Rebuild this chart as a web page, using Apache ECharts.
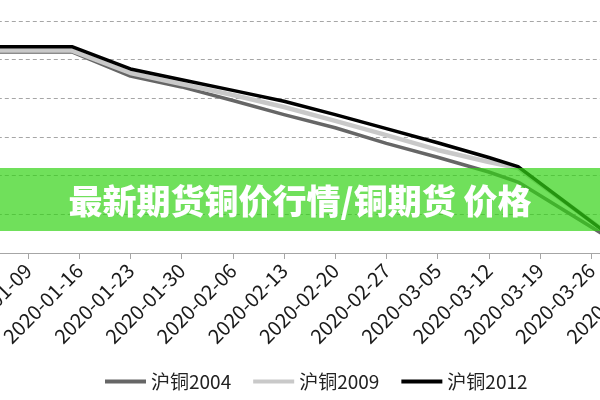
<!DOCTYPE html>
<html>
<head>
<meta charset="utf-8">
<script src="https://cdn.jsdelivr.net/npm/echarts@6/dist/echarts.min.js"></script>
<style>
  html, body { margin: 0; padding: 0; background: #fff; }
  #chart { width: 600px; height: 400px; }
</style>
</head>
<body>
<div id="chart"></div>
<script>
// 日期刻度（从 2020-01-02 起每周一个）
const dateLabels = ['2020-01-02', '2020-01-09', '2020-01-16', '2020-01-23', '2020-01-30', '2020-02-06',
  '2020-02-13', '2020-02-20', '2020-02-27', '2020-03-05', '2020-03-12', '2020-03-19', '2020-03-26', '2020-04-02'];
// 距 2020-01-02 的天数
const days = [0, 13, 21, 28, 35, 42, 49, 56, 63, 70, 74, 86];
const cu2004 = [46400, 46400, 45150, 44590, 43890, 43160, 42480, 41670, 40950, 40190, 39670, 36880];
const cu2009 = [46470, 46470, 45310, 44740, 44170, 43550, 42830, 42100, 41330, 40710, 40400, 37090];
const cu2012 = [46670, 46670, 45520, 44960, 44410, 43850, 43160, 42430, 41700, 40940, 40470, 37060];
const seriesNames = ['沪铜2004', '沪铜2009', '沪铜2012'];
const seriesColors = ['#666666', '#c9c9c9', '#000000'];
const bannerTitle = '最新期货铜价行情/铜期货 价格';

const FONT = '"Noto Sans CJK SC", "Microsoft YaHei", sans-serif';

function toPoints(vals) {
  return days.map((d, i) => [d, vals[i]]);
}

const myChart = echarts.init(document.getElementById('chart'));
const option = {
  animation: false,
  color: seriesColors,
  grid: {
    left: -23.2, right: -42.4, top: 21, bottom: 147,
    containLabel: false, outerBoundsMode: 'none',
  },
  legend: {
    data: seriesNames,
    left: 100,
    top: 367,
    icon: 'rect',
    itemWidth: 41,
    itemHeight: 4,
    itemGap: 22,
    textStyle: { fontSize: 19, color: '#222', fontFamily: FONT },
  },
  xAxis: {
    type: 'value',
    min: 0,
    max: 91,
    interval: 7,
    splitLine: { show: false },
    axisLine: { show: true, lineStyle: { color: '#a6a6a6', width: 1 } },
    axisTick: { show: true, length: 6, lineStyle: { color: '#a6a6a6' } },
    axisLabel: {
      rotate: 45,
      margin: 14,
      fontSize: 20,
      color: '#1a1a1a',
      fontFamily: FONT,
      hideOverlap: false,
      formatter: (v) => dateLabels[Math.round(v / 7)] || '',
    },
  },
  yAxis: {
    type: 'value',
    min: 36000,
    max: 48000,
    interval: 2000,
    axisLine: { show: false },
    axisTick: { show: false },
    axisLabel: { show: false },
    splitLine: { showMaxLine: true, lineStyle: { color: '#a6a6a6', type: [4, 3], width: 1 } },
  },
  series: [
    { name: seriesNames[0], type: 'line', data: toPoints(cu2004), symbol: 'none',
      lineStyle: { width: 3.5, cap: 'round', join: 'round' } },
    { name: seriesNames[1], type: 'line', data: toPoints(cu2009), symbol: 'none',
      lineStyle: { width: 4.5, cap: 'round', join: 'round' } },
    { name: seriesNames[2], type: 'line', data: toPoints(cu2012), symbol: 'none',
      lineStyle: { width: 3.5, cap: 'round', join: 'round' } },
  ],
  graphic: [
    {
      type: 'rect',
      z: 100,
      shape: { x: 0, y: 168, width: 600, height: 63 },
      style: { fill: 'rgba(51, 211, 22, 0.7)' },
    },
    {
      type: 'text',
      z: 101,
      x: 300,
      y: 201,
      style: {
        text: bannerTitle,
        fill: '#fff',
        font: '900 34px ' + FONT,
        textAlign: 'center',
        textVerticalAlign: 'middle',
      },
    },
  ],
};
myChart.setOption(option);
</script>
</body>
</html>
